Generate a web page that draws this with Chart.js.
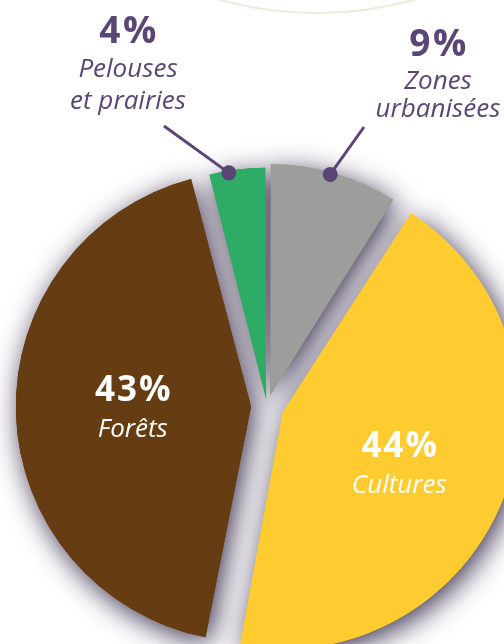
<!DOCTYPE html>
<html lang="fr">
<head>
<meta charset="utf-8">
<title>Occupation des sols</title>
<script src="https://cdn.jsdelivr.net/npm/chart.js@4.4.1/dist/chart.umd.min.js"></script>
<style>
  html, body { margin: 0; padding: 0; width: 504px; height: 644px; overflow: hidden; background: #fff; }
  #ring {
    position: absolute; left: -47px; top: -714px; width: 728px; height: 728px;
    border: 2px solid #e2efd6; border-radius: 50%; box-sizing: border-box;
  }
  #wrap { position: absolute; left: 0; top: 0; width: 534px; height: 812px; }
</style>
</head>
<body>
<div id="ring"></div>
<div id="wrap"><canvas id="landUse"></canvas></div>
<script>
// Land use shares, clockwise from 12 o'clock
const categories = ["Zones urbanisées", "Cultures", "Forêts", "Pelouses et prairies"];
const shares = [9, 44, 43, 4];
const nameLines = [["Zones", "urbanisées"], ["Cultures"], ["Forêts"], ["Pelouses", "et prairies"]];

const sliceColors = ["#9d9d9b", "#fecb30", "#663c12", "#2eac66"];
const sliceOffsets = [44, 68, 64, 28];

const PURPLE = "#5b4576";
const FONT = '"Open Sans", "DejaVu Sans", sans-serif';

// small slices get their label outside, with a leader line and a dot on the rim
const outsideLabels = {
  0: { x: 438, baselines: [56, 89, 117], anchor: 0.47, lineEnd: [364, 127] },
  3: { x: 128, baselines: [43, 77, 109], anchor: 0.35, lineEnd: [164, 126] },
};
// nudges for the labels printed inside the big slices
const insideNudge = { 1: [2, 0], 2: [4, -8] };

// where an exploded slice really sits (same maths as ArcElement.draw)
function sliceGeometry(arc) {
  const p = arc.getProps(["x", "y", "startAngle", "endAngle", "outerRadius", "circumference"], true);
  const off = (arc.options.offset || 0) / 4;
  const fix = 1 - Math.sin(Math.min(Math.PI, p.circumference || 0));
  const mid = (p.startAngle + p.endAngle) / 2;
  return {
    cx: p.x + Math.cos(mid) * off,
    cy: p.y + Math.sin(mid) * off,
    r: p.outerRadius + off * fix,
    start: p.startAngle, end: p.endAngle, mid
  };
}

// ─── soft drop shadow under the whole pie ─────────────────
const sliceShadow = {
  id: "sliceShadow",
  beforeDatasetsDraw(chart) {
    const ctx = chart.ctx;
    ctx.save();
    ctx.shadowColor = "rgba(42, 32, 64, 0.92)";
    ctx.shadowBlur = 28;
    ctx.shadowOffsetX = 4;
    ctx.shadowOffsetY = 6;
    chart.getDatasetMeta(0).data.forEach(arc => arc.draw(ctx));
    ctx.restore();
  }
};

// ─── percent + name labels ────────────────────────────────
const sliceLabels = {
  id: "sliceLabels",
  afterDatasetsDraw(chart) {
    const ctx = chart.ctx;
    const values = chart.data.datasets[0].data;
    ctx.save();
    ctx.textAlign = "center";
    ctx.textBaseline = "alphabetic";

    chart.getDatasetMeta(0).data.forEach((arc, i) => {
      const g = sliceGeometry(arc);
      const pct = values[i] + "%";
      const out = outsideLabels[i];

      if (out) {
        const a = g.start + (g.end - g.start) * out.anchor;
        const dx = g.cx + Math.cos(a) * (g.r - 2);
        const dy = g.cy + Math.sin(a) * (g.r - 2);
        ctx.strokeStyle = PURPLE;
        ctx.lineWidth = 3;
        ctx.beginPath();
        ctx.moveTo(dx, dy);
        ctx.lineTo(out.lineEnd[0], out.lineEnd[1]);
        ctx.stroke();
        ctx.fillStyle = PURPLE;
        ctx.beginPath();
        ctx.arc(dx, dy, 7.5, 0, Math.PI * 2);
        ctx.fill();

        ctx.font = "bold 37px " + FONT;
        ctx.letterSpacing = "2.5px";
        ctx.fillText(pct, out.x + 1, out.baselines[0]);
        ctx.font = "italic 26px " + FONT;
        ctx.letterSpacing = "0px";
        nameLines[i].forEach((line, k) => ctx.fillText(line, out.x, out.baselines[k + 1]));
      } else {
        const nudge = insideNudge[i] || [0, 0];
        const d = g.r * 0.52;
        const px = g.cx + Math.cos(g.mid) * d + nudge[0];
        const py = g.cy + Math.sin(g.mid) * d + nudge[1];
        ctx.fillStyle = "#ffffff";
        ctx.font = "bold 35px " + FONT;
        ctx.letterSpacing = "2px";
        ctx.fillText(pct, px + 1, py - 1);
        ctx.font = "italic 26px " + FONT;
        ctx.letterSpacing = "0px";
        ctx.fillText(nameLines[i][0], px, py + 35);
      }
    });
    ctx.restore();
  }
};

new Chart(document.getElementById("landUse"), {
  type: "pie",
  data: {
    labels: categories,
    datasets: [{
      data: shares,
      backgroundColor: sliceColors,
      offset: sliceOffsets,
      borderWidth: 0,
    }]
  },
  options: {
    responsive: true,
    maintainAspectRatio: false,
    animation: false,
    events: [],
    radius: 226,
    layout: { padding: 0 },
    plugins: { legend: { display: false }, tooltip: { enabled: false } }
  },
  plugins: [sliceShadow, sliceLabels]
});
</script>
</body>
</html>
